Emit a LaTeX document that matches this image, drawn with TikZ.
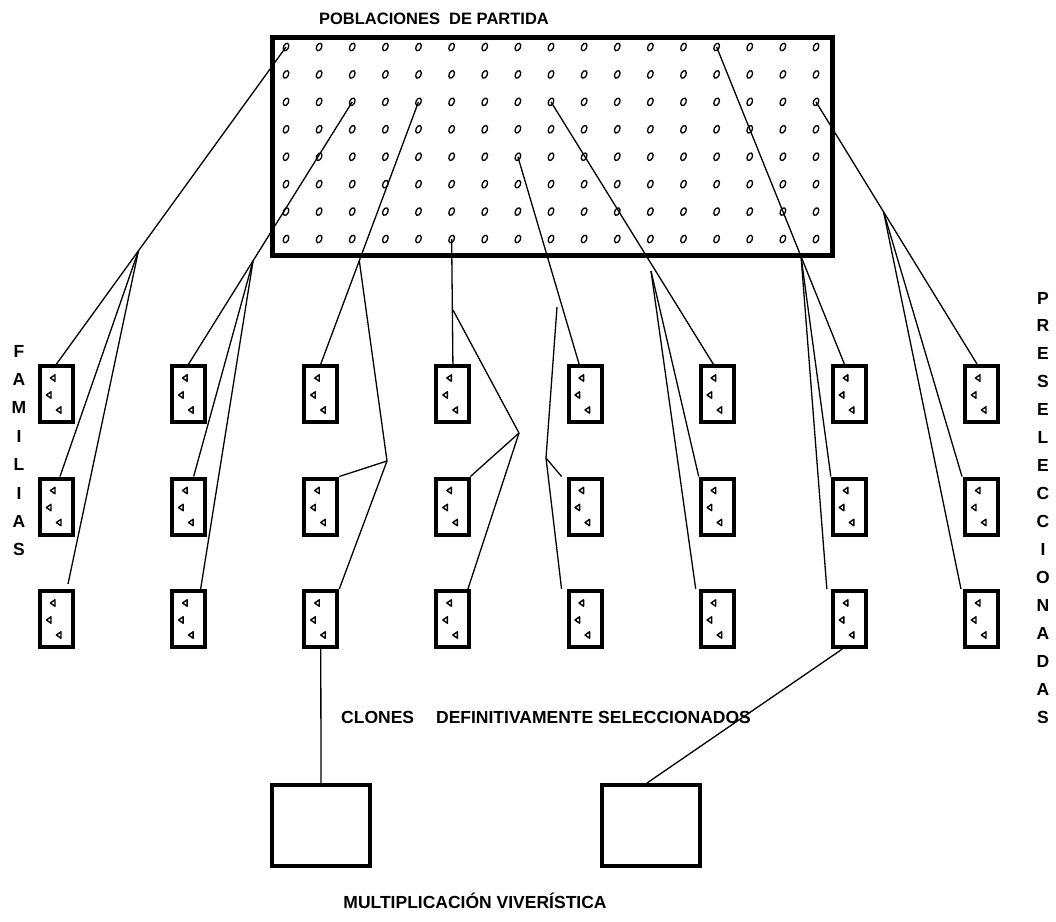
\documentclass[tikz,border=0pt]{standalone}
\usepackage{fontspec}
\setmainfont{Liberation Sans}
\usetikzlibrary{shapes.geometric,calc}
\begin{document}
\begin{tikzpicture}[x=1pt,y=-1pt,
  lbl/.style={font=\fontsize{16.5}{19}\selectfont\bfseries, inner sep=0pt, anchor=base},
  biglbl/.style={lbl, font=\fontsize{17.5}{20}\selectfont\bfseries},
  pool/.style={draw, line width=5pt, inner sep=0pt, minimum width=560pt, minimum height=218pt},
  seed/.style={draw, ellipse, line width=1.3pt, inner sep=0pt, minimum width=5pt, minimum height=8pt, rotate=-25},
  fambox/.style={draw, line width=4pt, inner sep=0pt, minimum width=33pt, minimum height=56pt},
  nursery/.style={draw, line width=4pt, inner sep=0pt, minimum width=98pt, minimum height=81pt},
  link/.style={line width=1.3pt},
  tri/.pic={\draw[line width=1.4pt, line join=round] (-2.6,0) -- (2,-3.2) -- (2,3.2) -- cycle;}
]
\useasboundingbox (0,0) rectangle (1056,921);

% starting populations: frame and seed grid
\node[pool] (pool) at (552,146) {};
\foreach \i in {1,...,8}
  \foreach \j in {1,...,17}
    \node[seed] (d-\i-\j) at ({286+33.125*(\j-1)}, {47+27.43*(\i-1)}) {};

% families: 8 columns x 3 rows, three seedlings each
\foreach \c in {1,...,8}
  \foreach \r in {1,...,3} {
    \node[fambox] (b\r\c) at ({56.5+132.14*(\c-1)}, {394+112.5*(\r-1)}) {};
    \pic at ({56.5+132.14*(\c-1)-3.5}, {394+112.5*(\r-1)-16}) {tri};
    \pic at ({56.5+132.14*(\c-1)-7.5}, {394+112.5*(\r-1)+1}) {tri};
    \pic at ({56.5+132.14*(\c-1)+2.5}, {394+112.5*(\r-1)+16}) {tri};
  }

% nursery multiplication
\node[nursery] (m1) at (321,825.5) {};
\node[nursery] (m2) at (651,825.5) {};

% column 1
\draw[link] (d-1-1.center) -- (b11.north);
\coordinate (a1) at ($(d-1-1.center)!0.643!(b11.north)$);
\coordinate (e1) at ([xshift=11.5pt,yshift=5pt]b31.north);
\draw[link] (a1) -- ([xshift=3.5pt]b21.north);
\draw[link] (a1) -- (e1);

% column 2
\draw[link] (d-3-3.center) -- (b12.north);
\coordinate (a2) at ($(d-3-3.center)!0.606!(b12.north)$);
\draw[link] (a2) -- ([xshift=5pt]b22.north);
\draw[link] (a2) -- ([xshift=12pt]b32.north);

% column 3
\draw[link] (d-3-5.center) -- (b13.north);
\coordinate (a3) at ($(d-3-5.center)!0.606!(b13.north)$);
\coordinate (c3) at (387,461);
\draw[link] (a3) -- (c3);
\draw[link] (c3) -- (b23.north east);
\draw[link] (c3) -- (b33.north east);

% column 4
\draw[link] (d-8-6.center) -- (b14.north);
\coordinate (p4) at (453,310);
\coordinate (q4) at (519,433);
\draw[link] (p4) -- (q4);
\draw[link] (q4) -- ([xshift=-1pt]b24.north east);
\draw[link] (q4) -- ([xshift=-3.5pt]b34.north east);

% column 5
\draw[link] (d-5-8.center) -- ([xshift=-6pt]b15.north);
\coordinate (p5) at (557,307);
\coordinate (q5) at (546,458);
\draw[link] (p5) -- (q5);
\draw[link] (q5) -- ([xshift=-5pt]b25.north west);
\draw[link] (q5) -- ([xshift=-5pt]b35.north west);

% column 6
\draw[link] (d-3-9.center) -- ([xshift=-4pt]b16.north);
\coordinate (a6) at (651,271);
\draw[link] (a6) -- (b26.north west);
\draw[link] (a6) -- ([xshift=-3pt]b36.north west);

% column 7
\draw[link] (d-1-14.center) -- ([xshift=-5pt]b17.north);
\coordinate (a7) at ($(d-1-14.center)!0.661!([xshift=-5pt]b17.north)$);
\draw[link] (a7) -- (b27.north west);
\draw[link] (a7) -- ([xshift=-4pt]b37.north west);

% column 8
\draw[link] (d-3-17.center) -- ([xshift=-4.5pt]b18.north);
\coordinate (a8) at ($(d-3-17.center)!0.42!([xshift=-4.5pt]b18.north)$);
\draw[link] (a8) -- ([xshift=-1pt]b28.north west);
\draw[link] (a8) -- ([xshift=-2pt]b38.north west);

% definitively selected clones
\draw[link] (b33.south) -- (m1.north);
\draw[link] ([xshift=-7pt]b37.south) -- ([xshift=-4pt]m2.north);

% labels
\node[lbl] (title) at (434,24) {POBLACIONES\hspace{4.5pt} DE PARTIDA};
\node[biglbl, anchor=base west] (clones) at (341,723.5) {CLONES\hspace{22pt}DEFINITIVAMENTE SELECCIONADOS};
\node[biglbl] (multi) at (475,908.5) {MULTIPLICACIÓN VIVERÍSTICA};
\foreach \l [count=\k] in {F,A,M,I,L,I,A,S}
  \node[biglbl] (fam-\k) at (19, {357+28.4*(\k-1)}) {\l};
\foreach \l [count=\k] in {P,R,E,S,E,L,E,C,C,I,O,N,A,D,A,S}
  \node[biglbl] (pre-\k) at (1043, {304+27.95*(\k-1)}) {\l};
\end{tikzpicture}
\end{document}
